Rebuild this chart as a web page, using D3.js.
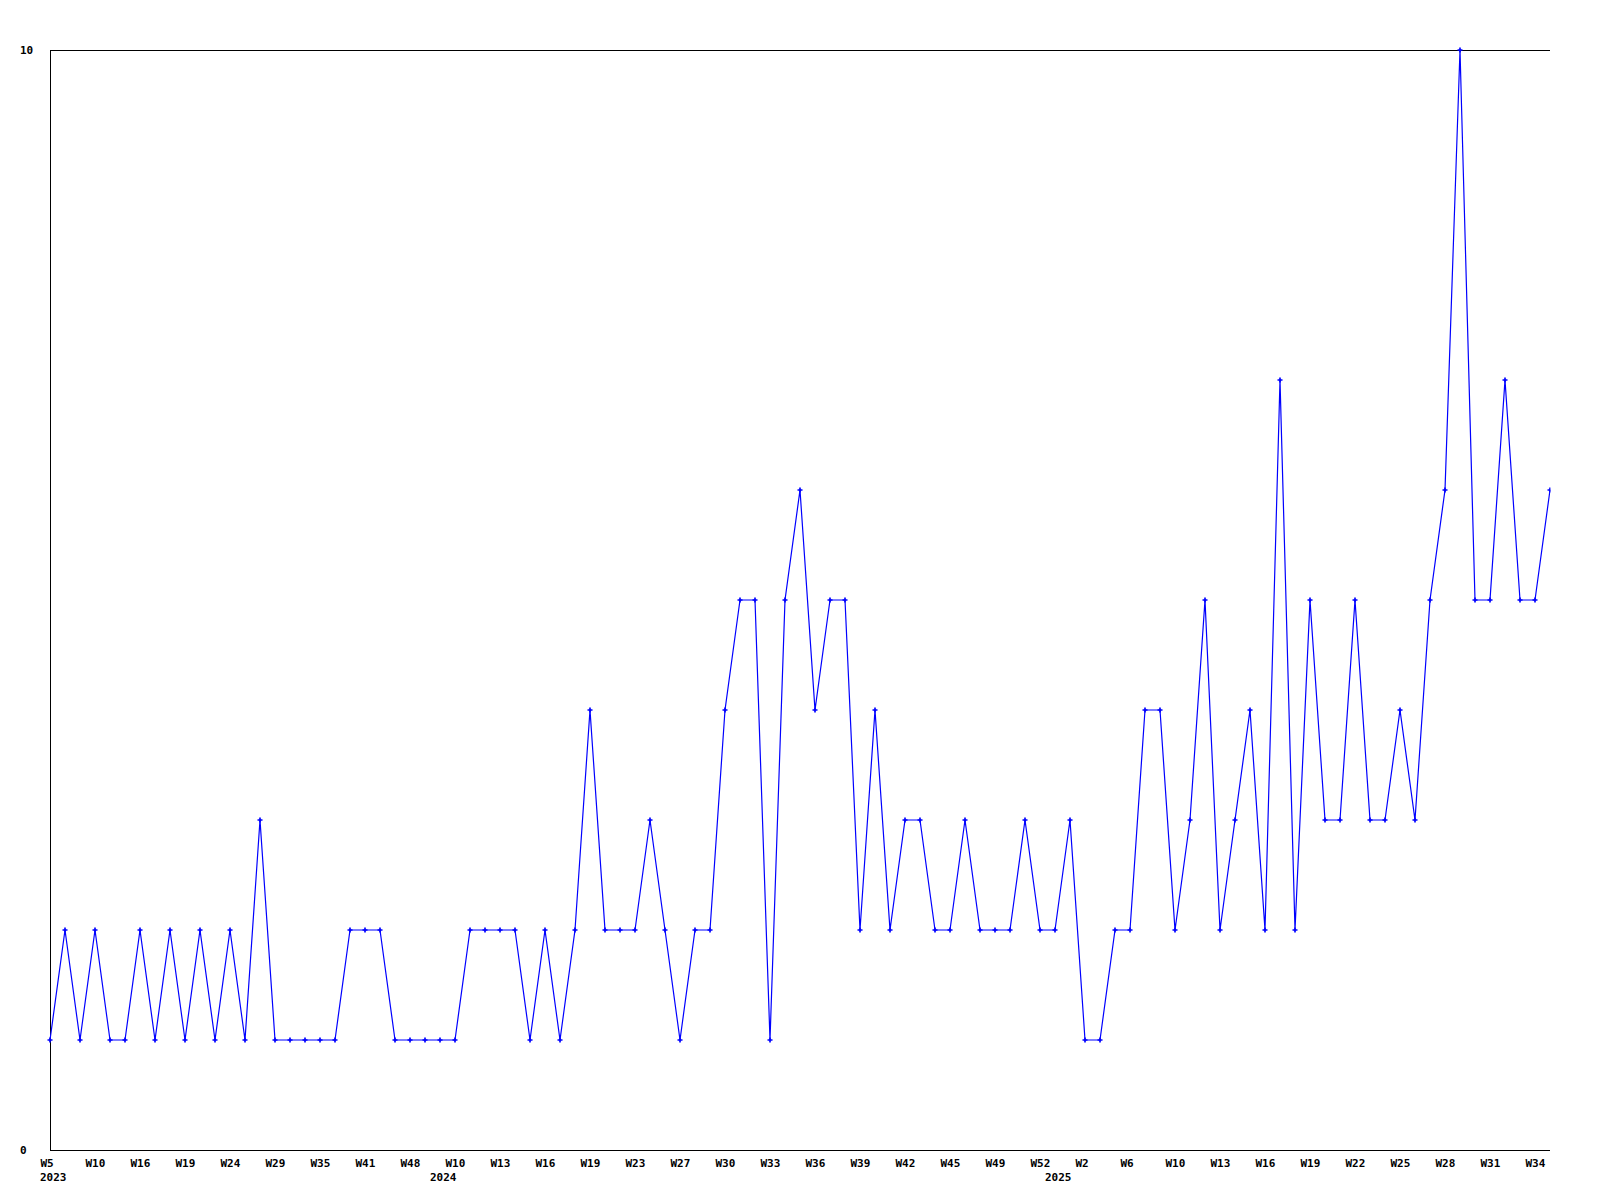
<!DOCTYPE html>
<html>
<head>
<meta charset="utf-8">
<script src="https://cdn.jsdelivr.net/npm/d3@7"></script>
<style>
  html, body { margin: 0; padding: 0; background: #ffffff; }
  svg { display: block; }
  text { font-family: "DejaVu Sans Mono", monospace; font-weight: bold; font-size: 11px; fill: #000; }
</style>
</head>
<body>
<svg id="chart" width="1600" height="1200"></svg>
<script>
// ---- data ----
const values = [
  1, 2, 1, 2, 1, 1, 2, 1, 2, 1,
  2, 1, 2, 1, 3, 1, 1, 1, 1, 1,
  2, 2, 2, 1, 1, 1, 1, 1, 2, 2,
  2, 2, 1, 2, 1, 2, 4, 2, 2, 2,
  3, 2, 1, 2, 2, 4, 5, 5, 1, 5,
  6, 4, 5, 5, 2, 4, 2, 3, 3, 2,
  2, 3, 2, 2, 2, 3, 2, 2, 3, 1,
  1, 2, 2, 4, 4, 2, 3, 5, 2, 3,
  4, 2, 7, 2, 5, 3, 3, 5, 3, 3,
  4, 3, 5, 6, 10, 5, 5, 7, 5, 5,
  6
];
const tickLabels = [
  "W5", "W10", "W16", "W19", "W24", "W29", "W35", "W41", "W48",
  "W10", "W13", "W16", "W19", "W23", "W27", "W30", "W33", "W36", "W39", "W42", "W45", "W49", "W52",
  "W2", "W6", "W10", "W13", "W16", "W19", "W22", "W25", "W28", "W31", "W34"
];
const tickStep = 3;
const yearLabels = ["2023", "2024", "2025"];
const yearStartIndex = [0, 26, 67];
const yTicks = [0, 10];

(function () {
  const svg = d3.select("#chart");
  const pl = 50, pr = 1550, pt = 50, pb = 1150;

  const x = d3.scaleLinear().domain([0, values.length - 1]).range([pl, pr]);
  const y = d3.scaleLinear().domain([0, 10]).range([pb, pt]);

  // frame: top, left, bottom
  const frame = svg.append("g").attr("shape-rendering", "crispEdges")
    .attr("stroke", "#000").attr("stroke-width", 1);
  frame.append("line").attr("x1", pl).attr("x2", pr).attr("y1", pt + 0.5).attr("y2", pt + 0.5);
  frame.append("line").attr("x1", pl + 0.5).attr("x2", pl + 0.5).attr("y1", pt).attr("y2", pb);
  frame.append("line").attr("x1", pl).attr("x2", pr).attr("y1", pb + 0.5).attr("y2", pb + 0.5);

  // y axis labels
  const yAxis = d3.axisLeft(y).tickValues(yTicks).tickSize(0).tickFormat(d3.format("d"));
  const yg = svg.append("g").attr("transform", `translate(${pl},0)`).call(yAxis);
  yg.select(".domain").remove();
  yg.selectAll("text")
    .attr("x", 20 - pl)
    .attr("dy", "0.36em")
    .attr("text-anchor", "start")
    .style("font-family", "DejaVu Sans Mono, monospace")
    .style("font-weight", "bold")
    .style("font-size", "11px")
    .style("fill", "#000");

  // x axis week labels
  const tickIdx = tickLabels.map((_, i) => i * tickStep);
  const xAxis = d3.axisBottom(x).tickValues(tickIdx).tickSize(0)
    .tickFormat((d, i) => tickLabels[i]);
  const xg = svg.append("g").attr("transform", `translate(0,${pb})`).call(xAxis);
  xg.select(".domain").remove();
  xg.selectAll("text")
    .attr("x", -10)
    .attr("y", 17)
    .attr("dy", 0)
    .attr("text-anchor", "start")
    .style("font-family", "DejaVu Sans Mono, monospace")
    .style("font-weight", "bold")
    .style("font-size", "11px")
    .style("fill", "#000");

  // year labels
  svg.append("g").selectAll("text").data(yearLabels).join("text")
    .attr("x", (d, i) => x(yearStartIndex[i]) - 10)
    .attr("y", pb + 31)
    .text(d => d);

  // clip to plot area
  svg.append("defs").append("clipPath").attr("id", "plotclip")
    .append("rect").attr("x", pl - 5).attr("y", pt - 5)
    .attr("width", pr - pl + 5.5).attr("height", pb - pt + 10);

  const plot = svg.append("g").attr("clip-path", "url(#plotclip)");

  const line = d3.line().x((d, i) => x(i)).y(d => y(d));
  plot.append("path").datum(values)
    .attr("d", line)
    .attr("fill", "none")
    .attr("stroke", "#0000ff")
    .attr("stroke-width", 1.2);

  const sym = d3.symbol().type(d3.symbolCross).size(14);
  plot.append("g").selectAll("path").data(values).join("path")
    .attr("transform", (d, i) => `translate(${x(i)},${y(d)})`)
    .attr("d", sym)
    .attr("fill", "#0000ff");
})();
</script>
</body>
</html>
